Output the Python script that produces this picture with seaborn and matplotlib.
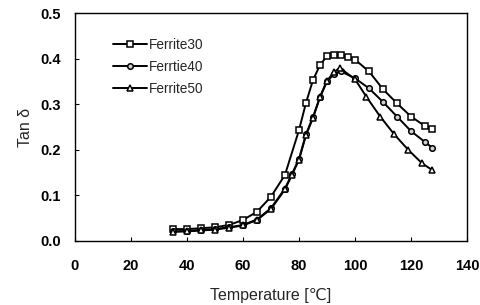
import matplotlib
matplotlib.use("Agg")
import matplotlib.pyplot as plt
import seaborn as sns
import pandas as pd

sns.set_theme(style="ticks")
plt.rcParams['font.family'] = ['Liberation Sans', 'DejaVu Sans']

x30 = [35, 40, 45, 50, 55, 60, 65, 70, 75, 80, 82.5, 85, 87.5, 90, 92.5, 95, 97.5, 100, 105, 110, 115, 120, 125, 127.5]
y30 = [0.026, 0.026, 0.028, 0.030, 0.035, 0.046, 0.064, 0.097, 0.145, 0.243, 0.303, 0.353, 0.386, 0.406,
       0.408, 0.408, 0.403, 0.398, 0.372, 0.333, 0.302, 0.273, 0.252, 0.245]

x40 = [35, 40, 45, 50, 55, 60, 65, 70, 75, 77.5, 80, 82.5, 85, 87.5, 90, 92.5, 95, 100, 105, 110, 115, 120, 125, 127.5]
y40 = [0.021, 0.022, 0.024, 0.026, 0.030, 0.035, 0.047, 0.072, 0.115, 0.147, 0.180, 0.234, 0.272, 0.315,
       0.350, 0.366, 0.372, 0.357, 0.335, 0.305, 0.273, 0.241, 0.217, 0.205]

x50 = [35, 40, 45, 50, 55, 60, 65, 70, 75, 77.5, 80, 82.5, 85, 87.5, 90, 92.5, 94.5, 100, 104, 109, 114, 119, 124, 127.5]
y50 = [0.020, 0.021, 0.023, 0.025, 0.029, 0.034, 0.046, 0.070, 0.113, 0.145, 0.178, 0.232, 0.270, 0.316,
       0.352, 0.370, 0.380, 0.355, 0.317, 0.273, 0.234, 0.200, 0.170, 0.156]

labels = ["Ferrite30", "Ferrtie40", "Ferrite50"]
xticks = [0, 20, 40, 60, 80, 100, 120, 140]
yticks = [0.0, 0.1, 0.2, 0.3, 0.4, 0.5]

fig = plt.figure(figsize=(4.8, 3.05), dpi=100)
ax = fig.add_axes([0.156, 0.210, 0.817, 0.747])

series = [(x30, y30, 's', 4.4, 'white'), (x40, y40, 'o', 4.0, '#d0d0d0'), (x50, y50, '^', 4.6, 'white')]
for (xs, ys, mk, ms, fc), lab in zip(series, labels):
    df = pd.DataFrame({"T": xs, "tan": ys})
    sns.lineplot(data=df, x="T", y="tan", ax=ax, color='black', marker=mk, markersize=ms,
                 markerfacecolor=fc, markeredgecolor='black', markeredgewidth=1.1,
                 linewidth=1.4, label=lab)

ax.set_xlim(0, 140)
ax.set_ylim(0, 0.5)
ax.set_xticks(xticks)
ax.set_yticks(yticks)
ax.set_yticklabels([f"{v:.1f}" for v in yticks])
for sp in ax.spines.values():
    sp.set_visible(True)
    sp.set_color('black')
    sp.set_linewidth(1.0)
ax.tick_params(direction='in', length=3, width=0.8, colors='black', labelsize=10.5)
ax.tick_params(axis='x', pad=13)
ax.tick_params(axis='y', pad=10)
for t in ax.get_xticklabels() + ax.get_yticklabels():
    t.set_fontweight('bold')
ax.set_xlabel("Temperature [℃]", fontsize=11.5, labelpad=11)
ax.set_ylabel("Tan δ", fontsize=11.5, labelpad=5)

leg = ax.legend(loc='upper left', bbox_to_anchor=(0.065, 0.945), frameon=False, fontsize=9.8,
                handlelength=2.5, handletextpad=0.2, labelspacing=0.6)

fig.savefig("out.png", dpi=100)
